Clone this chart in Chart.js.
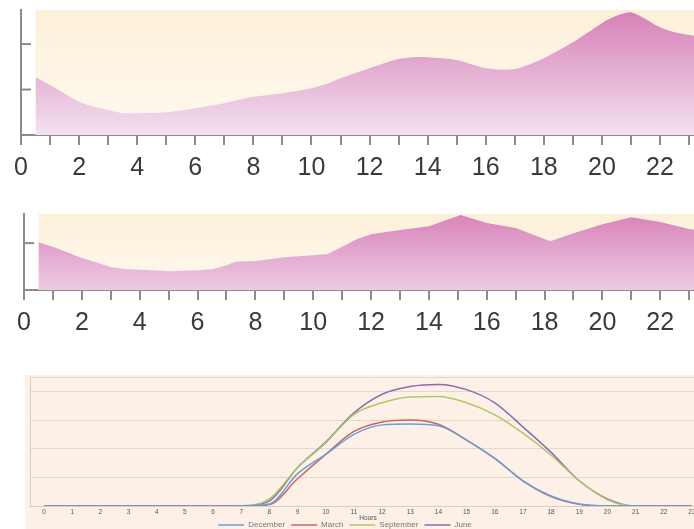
<!DOCTYPE html>
<html lang="en">
<head>
    <meta charset="UTF-8">
    <title>Daily profiles</title>
    <script src="https://cdn.jsdelivr.net/npm/chart.js"></script>
    <style>
        body { margin: 0; background: #fff; overflow: hidden; width: 694px; height: 529px; position: relative; }
        canvas { position: absolute; }
    </style>
</head>
<body>
    <canvas id="top" width="740" height="185" style="left:0;top:0"></canvas>
    <canvas id="mid" width="740" height="140" style="left:0;top:200px"></canvas>
    <canvas id="sun" width="730" height="169" style="left:-16px;top:370px"></canvas>

    <script>
        // top profile (hour, value)
        const hoursA = [0.5, 1, 2, 2.5, 3, 3.5, 4, 5, 6, 7, 8, 9, 10, 10.5, 11, 12, 13, 13.5, 14, 15, 16, 17, 18, 19, 20, 20.3, 21, 22, 22.5, 23, 24];
        const loadA  = [1.27, 1.10, 0.73, 0.62, 0.55, 0.48, 0.48, 0.50, 0.59, 0.70, 0.84, 0.92, 1.03, 1.12, 1.25, 1.47, 1.67, 1.71, 1.71, 1.65, 1.47, 1.45, 1.69, 2.04, 2.46, 2.57, 2.70, 2.37, 2.26, 2.20, 2.10];

        // middle profile
        const hoursB = [0.5, 1, 2, 3, 3.5, 4, 5, 6, 6.5, 7, 7.3, 8, 9, 10, 10.5, 11, 11.5, 12, 13, 14, 15.1, 16, 17, 18.2, 19, 20, 21, 22, 23, 24];
        const loadB  = [1.02, 0.92, 0.68, 0.49, 0.45, 0.43, 0.40, 0.42, 0.44, 0.53, 0.60, 0.62, 0.70, 0.74, 0.77, 0.92, 1.08, 1.19, 1.28, 1.36, 1.60, 1.43, 1.32, 1.04, 1.21, 1.40, 1.55, 1.45, 1.30, 1.20];

        const hourTicks = [0, 24];

        // bottom chart
        const sunHours = ['0','1','2','3','4','5','6','7','8','9','10','11','12','13','14','15','16','17','18','19','20','21','22','23'];
        const december  = [0,0,0,0,0,0,0,0,0.07,1.13,1.80,2.50,2.83,2.86,2.80,2.30,1.66,0.88,0.35,0.07,0,0,0,0];
        const march     = [0,0,0,0,0,0,0,0,0.05,0.95,1.80,2.60,2.93,3.00,2.85,2.30,1.66,0.88,0.33,0.06,0,0,0,0];
        const september = [0,0,0,0,0,0,0,0.01,0.25,1.34,2.20,3.20,3.60,3.80,3.82,3.60,3.18,2.54,1.77,0.88,0.22,0,0,0];
        const june      = [0,0,0,0,0,0,0,0,0.18,1.34,2.23,3.25,3.90,4.17,4.24,4.06,3.60,2.76,1.87,0.88,0.25,0,0,0];

        const axisGrey = '#8c8c8c';
        const labelFont = { family: 'Liberation Sans, Arial, sans-serif', size: 25 };

        // peach panel behind the area + inward y ticks
        const panelPlugin = {
            id: 'panel',
            beforeDatasetsDraw(chart, args, opts) {
                const { ctx, chartArea, scales } = chart;
                const x0 = scales.x.getPixelForValue(opts.start);
                const g = ctx.createLinearGradient(0, chartArea.top, 0, chartArea.bottom);
                g.addColorStop(0, '#fdf0d9');
                g.addColorStop(1, '#fef9f0');
                ctx.save();
                ctx.fillStyle = g;
                ctx.fillRect(x0, chartArea.top, chart.width - x0, chartArea.bottom - chartArea.top);
                ctx.restore();
            },
            afterDatasetsDraw(chart) {
                const { ctx, chartArea, scales } = chart;
                ctx.save();
                ctx.strokeStyle = axisGrey;
                ctx.lineWidth = 2;
                scales.y.ticks.forEach(t => {
                    if (t.value <= 0 || t.value >= scales.y.max) return;
                    const y = scales.y.getPixelForValue(t.value);
                    ctx.beginPath();
                    ctx.moveTo(chartArea.left, y);
                    ctx.lineTo(chartArea.left + 10, y);
                    ctx.stroke();
                });
                ctx.restore();
            }
        };

        function areaChart(id, hours, values, yMax, yWidth, padTop, padRight, tension, cTop, cBottom) {
            return new Chart(document.getElementById(id), {
                type: 'line',
                data: {
                    datasets: [{
                        data: hours.map((h, i) => ({ x: h, y: values[i] })),
                        fill: 'origin',
                        borderWidth: 0,
                        pointRadius: 0,
                        tension: tension,
                        backgroundColor: (c) => {
                            const a = c.chart.chartArea;
                            if (!a) return cBottom;
                            const g = c.chart.ctx.createLinearGradient(0, a.top, 0, a.bottom);
                            g.addColorStop(0, cTop);
                            g.addColorStop(1, cBottom);
                            return g;
                        }
                    }]
                },
                options: {
                    responsive: false,
                    animation: false,
                    layout: { padding: { top: padTop, right: padRight, left: 0, bottom: 0 } },
                    plugins: { legend: { display: false }, tooltip: { enabled: false }, panel: { start: hours[0] } },
                    scales: {
                        x: {
                            type: 'linear',
                            min: hourTicks[0], max: hourTicks[1],
                            afterFit: s => { s.height = 50; },
                            border: { color: axisGrey, width: 2 },
                            grid: { drawOnChartArea: false, drawTicks: true, tickLength: 10, color: axisGrey, lineWidth: 2 },
                            ticks: {
                                stepSize: 1, autoSkip: false, maxRotation: 0, padding: 8,
                                color: '#3a3a3a', font: labelFont,
                                callback: v => (v % 2 === 0 ? String(v) : '')
                            }
                        },
                        y: {
                            min: 0, max: yMax,
                            afterFit: s => { s.width = yWidth; },
                            border: { color: axisGrey, width: 2 },
                            grid: { drawOnChartArea: false, drawTicks: false },
                            ticks: { display: false, stepSize: 1 }
                        }
                    }
                },
                plugins: [panelPlugin]
            });
        }

        areaChart('top', hoursA, loadA, 2.75, 21, 10, 11, 0.25, '#d67fb7', '#f4e2f0');
        areaChart('mid', hoursB, loadB, 1.62, 24, 14, 10, 0, '#d883ba', '#edcbe4');

        const smallFont = { family: 'Liberation Sans, Arial, sans-serif', size: 6.5 };
        const legendFont = { family: 'Liberation Sans, Arial, sans-serif', size: 8 };
        const sunBg = {
            id: 'sunBg',
            beforeDraw(chart) {
                const { ctx, chartArea } = chart;
                ctx.save();
                ctx.fillStyle = '#fdf0e6';
                ctx.fillRect(chartArea.left - 5, chartArea.top - 2, chart.width, chart.height);
                ctx.restore();
            }
        };

        function line(label, data, color) {
            return { label, data, borderColor: color, backgroundColor: color, borderWidth: 1.5,
                     pointRadius: 0, cubicInterpolationMode: 'monotone', fill: false };
        }

        new Chart(document.getElementById('sun'), {
            type: 'line',
            data: {
                labels: sunHours,
                datasets: [
                    line('December', december, '#6a9fd8'),
                    line('March', march, '#cc6460'),
                    line('September', september, '#acc86a'),
                    line('June', june, '#8a6cb0')
                ]
            },
            options: {
                responsive: false,
                animation: false,
                layout: { padding: { top: 7, right: 8, left: 0, bottom: 0 } },
                plugins: {
                    tooltip: { enabled: false },
                    legend: {
                        position: 'bottom',
                        labels: { usePointStyle: true, pointStyle: 'line', pointStyleWidth: 26, boxHeight: 6,
                                  padding: 6, font: legendFont, color: '#777' }
                    }
                },
                scales: {
                    x: {
                        offset: true,
                        afterFit: s => { s.height = 9; },
                        border: { color: '#dccbbf', width: 1 },
                        grid: { display: false, drawTicks: false },
                        ticks: { autoSkip: false, maxRotation: 0, padding: 2, font: smallFont, color: '#555' },
                        title: { display: true, text: 'Hours', font: smallFont, color: '#555', padding: { top: 0, bottom: -7 } }
                    },
                    y: {
                        min: 0, max: 4.5,
                        afterFit: s => { s.width = 46; },
                        border: { color: '#dccbbf', width: 1 },
                        grid: { color: '#e6d6c9', drawTicks: false },
                        ticks: { display: false, stepSize: 1 }
                    }
                }
            },
            plugins: [sunBg]
        });
    </script>
</body>
</html>
